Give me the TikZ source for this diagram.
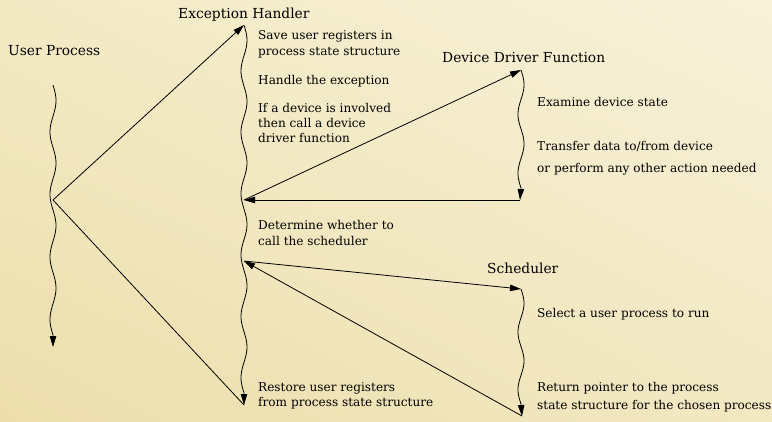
\documentclass[tikz,border=0pt]{standalone}
\usepackage{fontspec}
\setmainfont{DejaVu Serif}
\usetikzlibrary{arrows.meta,shadings}
\definecolor{bgUL}{HTML}{F3EAC4}
\definecolor{bgUR}{HTML}{F7F1D9}
\definecolor{bgLL}{HTML}{ECDEAC}
\definecolor{bgLR}{HTML}{F2E8C2}
\begin{document}
\begin{tikzpicture}[x=1pt,y=-1pt,
  line/.style={draw, line width=0.8pt},
  call/.style={line, -{Triangle[length=11pt,width=6.5pt]}},
  ret/.style={line},
  wave/.style={variable=\t, samples=120},
  title/.style={font=\fontsize{13.8}{16}\selectfont, inner sep=0pt, anchor=base west},
  note/.style={font=\fontsize{12.1}{14}\selectfont, inner sep=0pt, anchor=base west},
]
% page and background
\useasboundingbox (0,0) rectangle (772,421);
\shade[upper left=bgUL, upper right=bgUR, lower left=bgLL, lower right=bgLR]
  (0,0) rectangle (772,421);

% points on the threads of control
\coordinate (up_top)  at (53,85);
\coordinate (up_fork) at (53,200);
\coordinate (up_end)  at (53,347);
\coordinate (eh_top)  at (244,25);
\coordinate (eh_dd)   at (244,200);
\coordinate (eh_sc)   at (244,261);
\coordinate (eh_end)  at (244,405);
\coordinate (dd_top)  at (521,70);
\coordinate (dd_end)  at (520,200);
\coordinate (sc_top)  at (521,289);
\coordinate (sc_end)  at (522,416);

% titles
\node[title] (t_up) at (8,55)   {User Process};
\node[title] (t_eh) at (178,18) {Exception Handler};
\node[title] (t_dd) at (442,62) {Device Driver Function};
\node[title] (t_sc) at (487,273) {Scheduler};

% exception handler steps
\node[note] (eh1a) at (258,39)  {Save user registers in};
\node[note] (eh1b) at (258,55)  {process state structure};
\node[note] (eh2)  at (258,84)  {Handle the exception};
\node[note] (eh3a) at (258,112) {If a device is involved};
\node[note] (eh3b) at (258,127) {then call a device};
\node[note] (eh3c) at (258,142) {driver function};
\node[note] (eh4a) at (258,229) {Determine whether to};
\node[note] (eh4b) at (258,245) {call the scheduler};
\node[note] (eh5a) at (258,391) {Restore user registers};
\node[note] (eh5b) at (258,406) {from process state structure};

% device driver steps
\node[note] (dd1)  at (537,106) {Examine device state};
\node[note] (dd2a) at (537,150) {Transfer data to/from device};
\node[note] (dd2b) at (537,172) {or perform any other action needed};

% scheduler steps
\node[note] (sc1)  at (537,317) {Select a user process to run};
\node[note] (sc2a) at (537,391) {Return pointer to the process};
\node[note] (sc2b) at (537,409) {state structure for the chosen process};

% threads of control: wavy lines ending in an arrow
\draw[call] plot[wave, domain=85:335]  ({53+3*sin((\t-85)*5.76)}, \t) -- (up_end);
\draw[call] plot[wave, domain=25:393]  ({244+3*sin((\t-25)*5.87)}, \t) -- (eh_end);
\draw[call] plot[wave, domain=70:188]  ({521+3*sin((\t-70)*6.1017)}, \t) -- (dd_end);
\draw[call] plot[wave, domain=289:404] ({521+3*sin((\t-289)*6.2609)}, \t) -- (sc_end);

% transfers of control
\draw[call] (up_fork) -- (eh_top);
\draw[ret]  (up_fork) -- (eh_end);
\draw[call] (eh_dd) -- (dd_top);
\draw[call] (dd_end) -- (eh_dd);
\draw[call] (eh_sc) -- (sc_top);
\draw[call] (sc_end) -- (eh_sc);
\end{tikzpicture}
\end{document}
